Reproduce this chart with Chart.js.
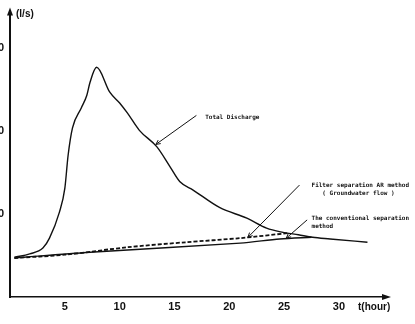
<!DOCTYPE html>
<html>
<head>
<meta charset="utf-8">
<script src="https://cdn.jsdelivr.net/npm/chart.js@4.4.1/dist/chart.umd.min.js"></script>
<style>
  html, body { margin: 0; padding: 0; background: #fff; overflow: hidden; }
  #wrap { width: 415px; height: 324px; }
</style>
</head>
<body>
<div id="wrap"><canvas id="chart" width="415" height="324"></canvas></div>
<script>
'use strict';

// total discharge hydrograph (hour, l/s)
const totalHours = [0.4, 1.8, 3.0, 3.6, 4.5, 5.0, 5.3, 5.7, 6.5, 7.0, 7.3, 7.9, 9.1, 10.0, 10.7, 11.8, 13.4, 14.6, 15.5, 16.7, 19.1, 21.6, 23.4, 24.9, 26.3, 27.6, 29.2, 32.6];
const totalFlow  = [4.8, 5.2, 5.9, 7.1, 10.2, 13.1, 17.1, 20.4, 22.8, 24.3, 25.9, 27.7, 24.7, 23.4, 22.2, 20.1, 18.1, 15.7, 13.9, 12.9, 10.8, 9.5, 8.3, 7.8, 7.5, 7.2, 7.0, 6.6];

// conventional separation (solid)
const convHours = [0.4, 7.3, 21.0, 24.6, 27.5];
const convFlow  = [4.7, 5.4, 6.5, 7.0, 7.2];

// filter separation AR method, groundwater flow (dashed)
const filterHours = [0.4, 5.0, 10.7, 16.0, 21.0, 25.3];
const filterFlow  = [4.7, 5.1, 6.0, 6.6, 7.1, 7.7];

const xTicks = [5, 10, 15, 20, 25, 30];
const yTicks = [10, 20, 30];

// callouts: text lines, arrow tip / tail and text anchor in data units
const noteLines = [
  ['Total Discharge'],
  ['Filter separation AR method', '   ( Groundwater flow )'],
  ['The conventional separation', 'method'],
];
const noteTip  = [[13.3, 18.4], [21.7, 7.2], [25.2, 7.1]];
const noteTail = [[17.0, 21.9], [26.4, 13.5], [27.1, 9.3]];
const noteText = [[17.8, 21.7], [27.5, 13.5], [27.5, 9.5]];

const INK = '#111';

function pts(xs, ys) {
  return xs.map((x, i) => ({ x, y: ys[i] }));
}

const extras = {
  id: 'extras',
  afterDraw(chart) {
    const { ctx, chartArea: a, scales: { x, y } } = chart;
    ctx.save();
    ctx.fillStyle = INK;
    ctx.strokeStyle = INK;

    // axis arrow heads
    ctx.beginPath();
    ctx.moveTo(a.left - 3, a.top + 3);
    ctx.lineTo(a.left + 3, a.top + 3);
    ctx.lineTo(a.left, a.top - 5);
    ctx.closePath();
    ctx.fill();
    ctx.beginPath();
    ctx.moveTo(a.right - 3, a.bottom - 3);
    ctx.lineTo(a.right - 3, a.bottom + 3);
    ctx.lineTo(a.right + 6, a.bottom);
    ctx.closePath();
    ctx.fill();

    // axis titles
    ctx.font = 'bold 10px "Liberation Sans", Arial, sans-serif';
    ctx.textBaseline = 'middle';
    ctx.textAlign = 'left';
    ctx.fillText('(l/s)', a.left + 6, a.top + 2);
    ctx.fillText('t(hour)', a.right - 27, a.bottom + 10);

    // callouts
    ctx.lineWidth = 1;
    ctx.font = 'bold 6px "DejaVu Sans Mono", monospace';
    noteLines.forEach((lines, i) => {
      const tx = x.getPixelForValue(noteTip[i][0]);
      const ty = y.getPixelForValue(noteTip[i][1]);
      const sx = x.getPixelForValue(noteTail[i][0]);
      const sy = y.getPixelForValue(noteTail[i][1]);
      ctx.beginPath();
      ctx.moveTo(sx, sy);
      ctx.lineTo(tx, ty);
      const ang = Math.atan2(ty - sy, tx - sx);
      [-0.45, 0.45].forEach(d => {
        ctx.moveTo(tx, ty);
        ctx.lineTo(tx - 5 * Math.cos(ang + d), ty - 5 * Math.sin(ang + d));
      });
      ctx.stroke();
      const px = x.getPixelForValue(noteText[i][0]);
      const py = y.getPixelForValue(noteText[i][1]);
      lines.forEach((t, j) => ctx.fillText(t, px, py + j * 8));
    });
    ctx.restore();
  },
};

new Chart(document.getElementById('chart'), {
  type: 'line',
  data: {
    datasets: [
      {
        label: 'Total Discharge',
        data: pts(totalHours, totalFlow),
        borderColor: INK,
        borderWidth: 1.4,
        pointRadius: 0,
        cubicInterpolationMode: 'monotone',
      },
      {
        label: 'The conventional separation method',
        data: pts(convHours, convFlow),
        borderColor: INK,
        borderWidth: 1.4,
        pointRadius: 0,
        tension: 0.3,
      },
      {
        label: 'Filter separation AR method',
        data: pts(filterHours, filterFlow),
        borderColor: INK,
        borderWidth: 1.8,
        borderDash: [4, 2],
        pointRadius: 0,
        tension: 0.3,
      },
    ],
  },
  options: {
    responsive: false,
    animation: false,
    layout: { padding: { top: 12, right: 30, left: 0, bottom: 0 } },
    plugins: { legend: { display: false }, tooltip: { enabled: false } },
    scales: {
      x: {
        type: 'linear',
        min: 0,
        max: 34.2,
        afterFit: s => { s.height = 27; },
        afterBuildTicks: s => { s.ticks = xTicks.map(v => ({ value: v })); },
        grid: { display: false, drawTicks: false },
        border: { display: true, color: INK, width: 1.5 },
        ticks: {
          padding: 3,
          color: INK,
          font: { family: '"Liberation Sans", Arial, sans-serif', size: 11, weight: 'bold' },
        },
      },
      y: {
        type: 'linear',
        min: 0,
        max: 34.3,
        afterFit: s => { s.width = 10; },
        afterBuildTicks: s => { s.ticks = yTicks.map(v => ({ value: v })); },
        grid: { display: false, drawTicks: false },
        border: { display: true, color: INK, width: 2 },
        ticks: {
          padding: 6,
          color: INK,
          font: { family: '"Liberation Sans", Arial, sans-serif', size: 11, weight: 'bold' },
        },
      },
    },
  },
  plugins: [extras],
});
</script>
</body>
</html>
